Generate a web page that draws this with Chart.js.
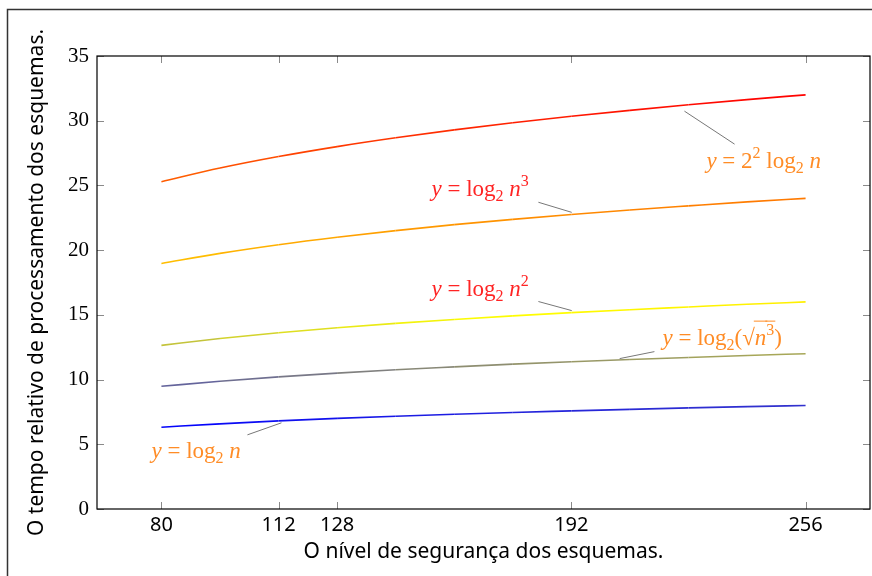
<!DOCTYPE html>
<html>
<head>
<meta charset="utf-8">
<script src="https://cdn.jsdelivr.net/npm/chart.js@4.4.1/dist/chart.umd.min.js"></script>
<style>
  html, body { margin: 0; padding: 0; background: #fff; }
  #wrap { width: 872px; height: 576px; }
</style>
</head>
<body>
<div id="wrap"><canvas id="grafico" width="872" height="576"></canvas></div>
<script>
// nivel de seguranca (n)
const niveis = [80, 96, 112, 128, 144, 160, 176, 192, 208, 224, 240, 256];
// tempo relativo
const serieLogN   = [6.32, 6.58, 6.81, 7.00, 7.17, 7.32, 7.46, 7.58, 7.70, 7.81, 7.91, 8.00];
const serieRaizN3 = [9.48, 9.87, 10.21, 10.50, 10.76, 10.98, 11.19, 11.38, 11.55, 11.71, 11.86, 12.00];
const serieLogN2  = [12.64, 13.17, 13.62, 14.00, 14.34, 14.64, 14.92, 15.17, 15.40, 15.61, 15.82, 16.00];
const serieLogN3  = [18.97, 19.75, 20.42, 21.00, 21.51, 21.97, 22.38, 22.75, 23.10, 23.42, 23.73, 24.00];
const serie4LogN  = [25.29, 26.34, 27.23, 28.00, 28.68, 29.29, 29.84, 30.34, 30.80, 31.23, 31.63, 32.00];
const ticksX = [80, 112, 128, 192, 256];

const series = [serieLogN, serieRaizN3, serieLogN2, serieLogN3, serie4LogN];

// colormap "hot" do pgfplots: azul -> amarelo -> laranja -> vermelho
const todos = series.flat();
const metaMin = Math.min(...todos);
const metaMax = Math.max(...todos);
const paleta = [[0, 0, 255], [255, 255, 0], [255, 128, 0], [255, 0, 0]];

function corDoValor(v) {
  let t = (v - metaMin) / (metaMax - metaMin) * 3;
  t = Math.max(0, Math.min(3, t));
  const i = Math.min(2, Math.floor(t));
  const f = t - i;
  const a = paleta[i], b = paleta[i + 1];
  const c = a.map((x, k) => Math.round(x + (b[k] - x) * f));
  return 'rgb(' + c.join(',') + ')';
}

// rotulos das curvas (posicao em coordenadas dos dados)
const rotulos = [
  { cor: '#ff8c26', x: 228.9, y: 26.33, pino: [222.9, 30.74, 236.6, 28.19],
    partes: [{ t: 'y', i: true }, { t: ' = ' }, { t: '2' }, { t: '2', s: 'sup' }, { t: ' log' }, { t: '2', s: 'sub' }, { t: ' ' }, { t: 'n', i: true }] },
  { cor: '#ff2424', x: 153.8, y: 24.16, pino: [183.0, 23.70, 192.1, 22.92],
    partes: [{ t: 'y', i: true }, { t: ' = ' }, { t: 'log' }, { t: '2', s: 'sub' }, { t: ' ' }, { t: 'n', i: true }, { t: '3', s: 'sup' }] },
  { cor: '#ff2424', x: 153.8, y: 16.42, pino: [183.0, 16.03, 192.1, 15.33],
    partes: [{ t: 'y', i: true }, { t: ' = ' }, { t: 'log' }, { t: '2', s: 'sub' }, { t: ' ' }, { t: 'n', i: true }, { t: '2', s: 'sup' }] },
  { cor: '#ff8c26', x: 216.9, y: 12.70, pino: [205.2, 11.62, 214.7, 12.16],
    partes: [{ t: 'y', i: true }, { t: ' = ' }, { t: 'log' }, { t: '2', s: 'sub' }, { t: '(√' }, { t: 'n', i: true, over: true }, { t: '3', s: 'sup', over: true }, { t: ')' }] },
  { cor: '#ff8c26', x: 77.3, y: 3.95, pino: [103.5, 5.73, 112.8, 6.66],
    partes: [{ t: 'y', i: true }, { t: ' = ' }, { t: 'log' }, { t: '2', s: 'sub' }, { t: ' ' }, { t: 'n', i: true }] }
];

function escreveFormula(ctx, partes, x, y, cor) {
  ctx.fillStyle = cor;
  ctx.strokeStyle = cor;
  ctx.textAlign = 'left';
  ctx.textBaseline = 'alphabetic';
  for (const p of partes) {
    const tam = p.s ? 16 : 23;
    ctx.font = (p.i ? 'italic ' : '') + tam + 'px "Liberation Serif"';
    const dy = p.s === 'sub' ? 5 : (p.s === 'sup' ? -10 : 0);
    ctx.fillText(p.t, x, y + dy);
    const w = ctx.measureText(p.t).width;
    if (p.over) {
      ctx.lineWidth = 1;
      ctx.beginPath();
      ctx.moveTo(x - 1, y - 23.5);
      ctx.lineTo(x + w + 1, y - 23.5);
      ctx.stroke();
    }
    x += w;
  }
}

const moldura = {
  id: 'moldura',
  afterDraw(chart) {
    const ctx = chart.ctx;
    const a = chart.chartArea;
    const sx = chart.scales.x, sy = chart.scales.y;
    ctx.save();

    // marcas para dentro
    ctx.strokeStyle = '#8a8a8a';
    ctx.lineWidth = 1;
    ctx.beginPath();
    ticksX.forEach(v => {
      const px = Math.round(sx.getPixelForValue(v)) + 0.5;
      ctx.moveTo(px, a.bottom); ctx.lineTo(px, a.bottom - 7);
      ctx.moveTo(px, a.top); ctx.lineTo(px, a.top + 7);
    });
    sy.ticks.forEach(t => {
      const py = Math.round(sy.getPixelForValue(t.value)) + 0.5;
      ctx.moveTo(a.left, py); ctx.lineTo(a.left + 7, py);
      ctx.moveTo(a.right, py); ctx.lineTo(a.right - 7, py);
    });
    ctx.stroke();

    // caixa do grafico
    ctx.strokeStyle = '#000';
    ctx.lineWidth = 1.2;
    ctx.strokeRect(a.left, a.top, a.right - a.left, a.bottom - a.top);

    // pinos e rotulos
    rotulos.forEach(r => {
      ctx.strokeStyle = '#777';
      ctx.lineWidth = 1;
      ctx.beginPath();
      ctx.moveTo(sx.getPixelForValue(r.pino[0]), sy.getPixelForValue(r.pino[1]));
      ctx.lineTo(sx.getPixelForValue(r.pino[2]), sy.getPixelForValue(r.pino[3]));
      ctx.stroke();
      escreveFormula(ctx, r.partes, sx.getPixelForValue(r.x), sy.getPixelForValue(r.y), r.cor);
    });

    // moldura externa
    ctx.strokeStyle = '#333';
    ctx.lineWidth = 1.5;
    ctx.strokeRect(7.5, 9.5, 1000, 1000);
    ctx.restore();
  }
};

const conjuntos = series.map(s => ({
  data: niveis.map((n, k) => ({ x: n, y: s[k] })),
  borderWidth: 1.6,
  pointRadius: 0,
  fill: false,
  cubicInterpolationMode: 'monotone',
  segment: {
    borderColor: c => corDoValor((c.p0.parsed.y + c.p1.parsed.y) / 2)
  }
}));

new Chart(document.getElementById('grafico'), {
  type: 'line',
  data: { datasets: conjuntos },
  options: {
    responsive: false,
    animation: false,
    layout: { padding: { top: 56, right: 2, left: 0, bottom: 0 } },
    plugins: { legend: { display: false }, tooltip: { enabled: false } },
    scales: {
      x: {
        type: 'linear',
        min: 62.4,
        max: 273.6,
        afterBuildTicks: s => { s.ticks = ticksX.map(v => ({ value: v })); },
        afterFit: s => { s.height = 67; },
        grid: { display: false, drawTicks: false },
        border: { display: false },
        ticks: { color: '#000', font: { family: 'Noto Sans', size: 20 }, maxRotation: 0, autoSkip: false, padding: 4 },
        title: { display: true, text: 'O nível de segurança dos esquemas.', color: '#000', font: { family: 'Noto Sans', size: 21 }, padding: { top: 0, bottom: 11 } }
      },
      y: {
        min: 0,
        max: 35,
        afterFit: s => { s.width = 97; },
        grid: { display: false, drawTicks: false },
        border: { display: false },
        ticks: { stepSize: 5, color: '#000', font: { family: 'Liberation Serif', size: 21 }, padding: 8 },
        title: { display: true, text: 'O tempo relativo de processamento dos esquemas.', color: '#000', font: { family: 'Noto Sans', size: 21 }, padding: { top: 24, bottom: 0 } }
      }
    }
  },
  plugins: [moldura]
});
</script>
</body>
</html>
